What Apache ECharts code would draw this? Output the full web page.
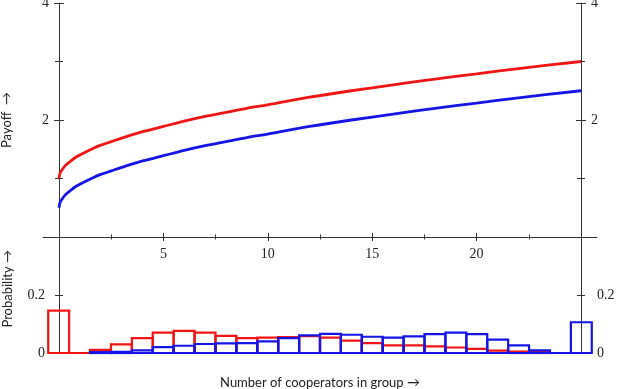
<!DOCTYPE html>
<html>
<head>
<meta charset="utf-8">
<script src="https://cdn.jsdelivr.net/npm/echarts@6/dist/echarts.min.js"></script>
<style>
  html, body { margin: 0; padding: 0; background: #fff; }
  #chart { width: 617px; height: 389px; }
</style>
</head>
<body>
<div id="chart"></div>
<script>
// Payoff curves
const payoffX = [0, 0.05, 0.15, 0.3, 0.5, 0.75, 1, 1.5, 2, 2.5, 3, 4, 5, 6, 7, 8, 9, 10, 12, 14, 16, 18, 20, 22, 25];
const payoffRed = [1.00, 1.09, 1.15, 1.22, 1.28, 1.35, 1.40, 1.49, 1.57, 1.63, 1.69, 1.80, 1.89, 1.98, 2.06, 2.13, 2.20, 2.26, 2.39, 2.50, 2.60, 2.70, 2.79, 2.88, 3.00];
const payoffBlue = [0.50, 0.59, 0.65, 0.72, 0.78, 0.85, 0.90, 0.99, 1.07, 1.13, 1.19, 1.30, 1.39, 1.48, 1.56, 1.63, 1.70, 1.76, 1.89, 2.00, 2.10, 2.20, 2.29, 2.38, 2.50];

// Histogram of number of cooperators
const cooperators = [0, 1, 2, 3, 4, 5, 6, 7, 8, 9, 10, 11, 12, 13, 14, 15, 16, 17, 18, 19, 20, 21, 22, 23, 24, 25];
const probRed = [0.146, 0, 0.011, 0.030, 0.051, 0.070, 0.076, 0.070, 0.059, 0.051, 0.053, 0.055, 0.058, 0.053, 0.043, 0.034, 0.026, 0.026, 0.023, 0.019, 0.014, 0.008, 0.005, 0.003, null, null];
const probBlue = [null, null, 0.003, 0.004, 0.009, 0.020, 0.025, 0.031, 0.033, 0.034, 0.040, 0.051, 0.061, 0.066, 0.063, 0.056, 0.053, 0.057, 0.065, 0.070, 0.065, 0.046, 0.026, 0.009, 0, 0.106];

// Tick labels
const xTickLabels = [5, 10, 15, 20];
const payoffTickLabels = [2, 4];
const probTickLabels = [0, 0.2];

const axisColor = "#333";
const labelFont = { fontFamily: "Liberation Serif", fontSize: 14, color: "#222" };
const nameFont = { fontFamily: "Lato", fontSize: 13, color: "#222" };

function pares(xs, ys) {
  const out = [];
  xs.forEach((x, i) => { if (ys[i] !== null) out.push([x, ys[i]]); });
  return out;
}

function etiqueta(lista) {
  return function (v) {
    return lista.some((t) => Math.abs(t - v) < 1e-9) ? String(v) : "";
  };
}

// eje con ticks hacia fuera + etiquetas, y un gemelo con ticks hacia dentro (ticks cruzados)
function ejePar(base, lista, tickLen, minorLen, margin) {
  const fuera = Object.assign({}, base, {
    axisLine: { show: base.lineShow !== false, onZero: false, lineStyle: { color: axisColor, width: 1 } },
    axisTick: { show: true, inside: false, length: tickLen, lineStyle: { color: axisColor } },
    minorTick: { show: minorLen > 0, splitNumber: 2, length: minorLen, lineStyle: { color: axisColor } },
    axisLabel: { show: true, margin: margin, formatter: etiqueta(lista), ...labelFont },
    splitLine: { show: false },
  });
  const dentro = Object.assign({}, base, {
    name: "",
    axisLine: { show: false, onZero: false },
    axisTick: { show: true, inside: true, length: tickLen, lineStyle: { color: axisColor } },
    minorTick: { show: minorLen > 0, splitNumber: 2, length: minorLen, lineStyle: { color: axisColor } },
    axisLabel: { show: false },
    splitLine: { show: false },
  });
  delete fuera.lineShow;
  delete dentro.lineShow;
  return [fuera, dentro];
}

function oculto(base) {
  return Object.assign({ show: false, axisLine: { onZero: false }, splitLine: { show: false } }, base);
}

function barraHist(color) {
  return function (params, api) {
    const x = api.value(0);
    const p = api.value(1);
    const a = api.coord([x - 0.5, p]);
    const b = api.coord([x + 0.5, 0]);
    return {
      type: "rect",
      shape: { x: a[0], y: a[1], width: b[0] - a[0], height: b[1] - a[1] },
      style: { fill: "none", stroke: color, lineWidth: 2.2 },
    };
  };
}

const xArriba = ejePar({ type: "value", gridIndex: 0, min: 0, max: 25, interval: 5, position: "bottom", lineShow: false }, xTickLabels, 4, 2.5, 10);
const yIzq = ejePar({ type: "value", gridIndex: 0, min: 0, max: 4, interval: 2, position: "left",
  name: "Payoff  →", nameLocation: "middle", nameGap: 46, nameTextStyle: nameFont }, payoffTickLabels, 5, 4, 10);
const yDer = ejePar({ type: "value", gridIndex: 0, min: 0, max: 4, interval: 2, position: "right" }, payoffTickLabels, 5, 4, 10);
const pIzq = ejePar({ type: "value", gridIndex: 2, min: 0, max: 0.4, interval: 0.2, position: "left" }, probTickLabels, 4, 0, 14);
const pDer = ejePar({ type: "value", gridIndex: 2, min: 0, max: 0.4, interval: 0.2, position: "right" }, probTickLabels, 4, 0, 16);

const cuadricula = (g) => Object.assign({ outerBoundsMode: "none", containLabel: false }, g);

const option = {
  animation: false,
  backgroundColor: "#fff",
  grid: [
    cuadricula({ left: 59, width: 522, top: 3, height: 234 }),
    cuadricula({ left: 43, width: 554, top: 3, height: 234 }),
    cuadricula({ left: 59, width: 522, top: 237, height: 116 }),
    cuadricula({ left: 43, width: 554, top: 237, height: 116 }),
  ],
  graphic: [
    {
      type: "text", left: 1, top: 250, rotation: Math.PI / 2,
      style: { text: "Probability →", ...nameFont, fill: "#222" },
    },
  ],
  xAxis: [
    xArriba[0],
    xArriba[1],
    {
      type: "value", gridIndex: 1, min: -0.75, max: 25.75, position: "bottom",
      axisLine: { show: true, onZero: false, lineStyle: { color: axisColor, width: 1 } },
      axisTick: { show: false }, axisLabel: { show: false }, splitLine: { show: false },
    },
    {
      type: "value", gridIndex: 2, min: 0, max: 25, position: "bottom",
      name: "Number of cooperators in group →", nameLocation: "middle", nameGap: 23, nameTextStyle: nameFont,
      axisLine: { show: false, onZero: false }, axisTick: { show: false }, axisLabel: { show: false }, splitLine: { show: false },
    },
    oculto({ type: "value", gridIndex: 3, min: -0.75, max: 25.75 }),
  ],
  yAxis: [
    yIzq[0], yIzq[1], yDer[0], yDer[1],
    oculto({ type: "value", gridIndex: 1, min: 0, max: 4 }),
    pIzq[0], pIzq[1], pDer[0], pDer[1],
    oculto({ type: "value", gridIndex: 3, min: 0, max: 0.4 }),
  ],
  series: [
    {
      type: "line", xAxisIndex: 0, yAxisIndex: 0, data: pares(payoffX, payoffRed),
      symbol: "none", smooth: 0.3, lineStyle: { color: "#f01414", width: 2.8 },
    },
    {
      type: "line", xAxisIndex: 0, yAxisIndex: 0, data: pares(payoffX, payoffBlue),
      symbol: "none", smooth: 0.3, lineStyle: { color: "#1414e6", width: 2.8 },
    },
    {
      type: "custom", xAxisIndex: 4, yAxisIndex: 9, data: pares(cooperators, probRed),
      renderItem: barraHist("#f01414"),
    },
    {
      type: "custom", xAxisIndex: 4, yAxisIndex: 9, data: pares(cooperators, probBlue),
      renderItem: barraHist("#1414e6"),
    },
  ],
};

const dom = document.getElementById("chart");
const myChart = echarts.init(dom, null, { renderer: "canvas" });
myChart.setOption(option);
</script>
</body>
</html>
